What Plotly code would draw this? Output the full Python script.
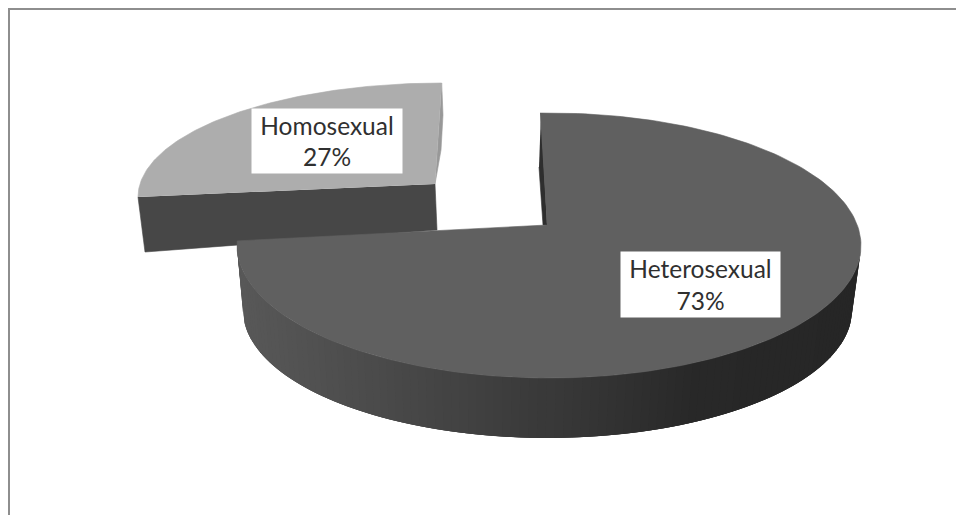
import math
import plotly.graph_objects as go

# ---- data ----
categories = ["Homosexual", "Heterosexual"]
shares = [27, 73]
face_colors = ["#adadad", "#606060"]
wall_color = "#474747"

fig = go.Figure()

def poly(xs, ys, color, width=0.6):
    fig.add_trace(go.Scatter(x=xs, y=ys, mode="lines", fill="toself", fillcolor=color,
                             line=dict(color=color, width=width), hoverinfo="skip", showlegend=False))

def ell(cx, cy, a, b, deg):
    r = math.radians(deg)
    return cx + a * math.sin(r), cy - b * math.cos(r)

def arc(cx, cy, a, b, d0, d1, n=120):
    pts = [ell(cx, cy, a, b, d0 + (d1 - d0) * i / n) for i in range(n + 1)]
    return [p[0] for p in pts], [p[1] for p in pts]

# sweep of the big slice, going clockwise from the top, from the data
sweep = 360 * shares[1] / sum(shares)

# ---- exploded small slice (drawn first, sits behind) ----
small_cx, small_cy, small_a, small_b = 441.7, 197, 303.7, 114
small_apex = (435, 184)
# its sweep in projected degrees is a quarter turn on this ellipse
small_sweep = 360 - sweep
small_start = 360 - small_sweep * (90 / small_sweep)
xs, ys = arc(small_cx, small_cy, small_a, small_b, small_start, 360)
# outer front wall
poly([138, 145, 437, small_apex[0]], [197, 252, 230, small_apex[1]], wall_color)
# inner sliver
poly([441.7, 443, 441, small_apex[0]], [83, 115, 150, small_apex[1]], "#989898")
# top face
poly(xs + [small_apex[0]], ys + [small_apex[1]], face_colors[0])

# ---- big slice: projected angle ----
t0 = -1.65
t1 = 272
def proj(ang):
    return t0 + ang * (t1 - t0) / sweep

top = (549, 245.5, 312, 132.5)
bot = (547.5, 310, 304.5, 128)

def wall_gray(x):
    stops = [(240, 0x58), (520, 0x3c), (700, 0x28), (860, 0x26)]
    if x <= stops[0][0]:
        return stops[0][1]
    for (x0, g0), (x1, g1) in zip(stops, stops[1:]):
        if x <= x1:
            return g0 + (g1 - g0) * (x - x0) / (x1 - x0)
    return stops[-1][1]

# gradient wall, as overlapping strips drawn right to left
n_strips = 110
w0, w1 = 92, t1
step = (w1 - w0) / n_strips
for i in range(n_strips):
    a0 = w0 + step * i
    a1 = min(w1, a0 + step * 3)
    mid = a0 + step / 2
    pts_top = [ell(*top, a0 + (a1 - a0) * k / 4) for k in range(5)]
    pts_bot = [ell(*bot, a0 + (a1 - a0) * k / 4) for k in range(5)]
    g = int(round(wall_gray(ell(*top, mid)[0])))
    sx = [p[0] for p in pts_top] + [p[0] for p in reversed(pts_bot)]
    sy = [p[1] for p in pts_top] + [p[1] for p in reversed(pts_bot)]
    poly(sx, sy, f"rgb({g},{g},{g})", 0)

# dark inner sliver at the slice's upright edge
big_apex = (547, 225)
poly([541, big_apex[0], 543, 539], [113, big_apex[1], 225, 167], "#2e2e2e")

# top face
xs, ys = arc(*top, proj(0), proj(sweep), 200)
poly(xs + [big_apex[0]], ys + [big_apex[1]], face_colors[1])

# ---- labels ----
boxes = [(326.7, 141, 150, 64), (700.3, 284.5, 159, 65)]
for name, share, (bx, by, bw, bh) in zip(categories, shares, boxes):
    fig.add_annotation(x=bx, y=by, xref="x", yref="y", text=f"{name}<br>{share}%", showarrow=False,
                       width=bw, height=bh, bgcolor="#ffffff", borderpad=0, align="center", valign="middle",
                       font=dict(family="Lato", size=24.5, color="#303030"))

# ---- frame ----
frame = dict(color="#8e8e8e", width=2)
fig.add_shape(type="line", x0=9, x1=956, y0=9, y1=9, xref="x", yref="y", line=frame)
fig.add_shape(type="line", x0=9, x1=9, y0=8, y1=515, xref="x", yref="y", line=frame)

fig.update_layout(
    width=956, height=515, margin=dict(l=0, r=0, t=0, b=0), autosize=False,
    paper_bgcolor="#ffffff", plot_bgcolor="#ffffff", showlegend=False,
    xaxis=dict(range=[0, 956], visible=False, fixedrange=True),
    yaxis=dict(range=[515, 0], visible=False, fixedrange=True),
)
fig.write_html("out.html", config={"displayModeBar": False},
               post_script="document.body.style.margin='0';document.body.style.overflow='hidden';")
